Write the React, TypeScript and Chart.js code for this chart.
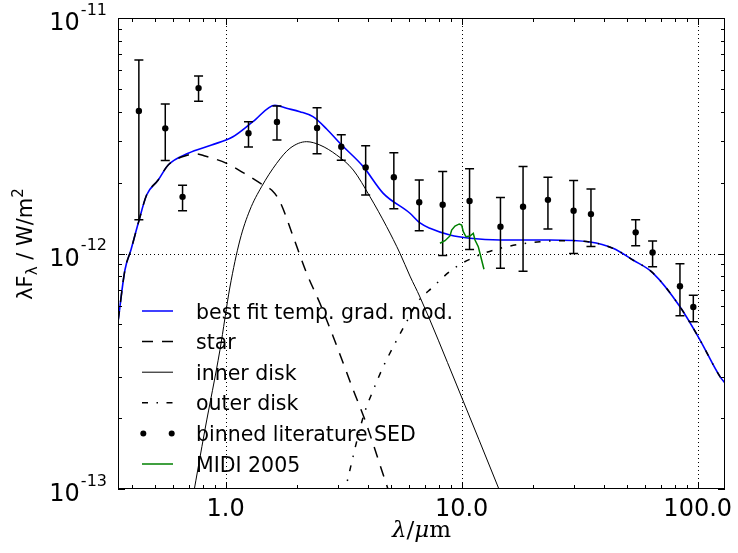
import React, { useEffect, useRef } from "react";
import { Chart, registerables } from "chart.js";

Chart.register(...registerables);

// ---------- data (wavelength in micron, lambda*F_lambda in W/m^2) ----------
const sedLambda = [0.429, 0.555, 0.657, 0.768, 1.25, 1.65, 2.44, 3.09, 3.92, 5.16, 6.61, 8.31, 10.8, 14.6, 18.2, 23.2, 29.8, 35.3, 54.6, 64.4, 84.1, 95.8];
const sedFlux = [4.03e-12, 3.40e-12, 1.74e-12, 5.04e-12, 3.24e-12, 3.62e-12, 3.41e-12, 2.84e-12, 2.32e-12, 2.11e-12, 1.65e-12, 1.61e-12, 1.67e-12, 1.30e-12, 1.58e-12, 1.69e-12, 1.52e-12, 1.47e-12, 1.23e-12, 1.01e-12, 0.726e-12, 0.593e-12];
const sedHigh = [6.63e-12, 4.31e-12, 1.95e-12, 5.67e-12, 3.63e-12, 4.23e-12, 4.16e-12, 3.19e-12, 2.87e-12, 2.68e-12, 2.05e-12, 2.23e-12, 2.29e-12, 1.73e-12, 2.34e-12, 2.11e-12, 2.04e-12, 1.88e-12, 1.39e-12, 1.13e-12, 0.905e-12, 0.665e-12];
const sedLow = [1.39e-12, 2.48e-12, 1.52e-12, 4.43e-12, 2.83e-12, 3.03e-12, 2.65e-12, 2.49e-12, 1.77e-12, 1.55e-12, 1.25e-12, 0.98e-12, 1.04e-12, 0.865e-12, 0.84e-12, 1.27e-12, 1.0e-12, 1.07e-12, 1.08e-12, 0.879e-12, 0.544e-12, 0.513e-12];

const bestLambda = [0.350, 0.3745, 0.397, 0.4263, 0.4627, 0.518, 0.5712, 0.694, 0.872, 1.074, 1.305, 1.618, 1.813, 2.064, 2.344, 2.679, 3.05, 3.83, 4.654, 6.039, 6.658, 7.337, 8.92, 10.84, 14.53, 23.67, 34.96, 43.76, 53.19, 64.66, 84.14, 102.3, 124.3, 130.5];
const bestFlux = [5.12e-13, 8.51e-13, 1.035e-12, 1.343e-12, 1.771e-12, 2.052e-12, 2.376e-12, 2.664e-12, 2.888e-12, 3.133e-12, 3.627e-12, 4.259e-12, 4.136e-12, 4.0e-12, 3.81e-12, 3.379e-12, 2.938e-12, 2.338e-12, 1.801e-12, 1.482e-12, 1.348e-12, 1.279e-12, 1.198e-12, 1.16e-12, 1.141e-12, 1.141e-12, 1.119e-12, 1.052e-12, 0.938e-12, 0.826e-12, 0.594e-12, 0.429e-12, 0.300e-12, 0.282e-12];

const starLambda = [0.350, 0.3745, 0.397, 0.4263, 0.4627, 0.518, 0.5712, 0.694, 0.7536, 0.817, 1.0098, 1.267, 1.443, 1.566, 1.699, 1.934, 2.204, 2.509, 2.857, 3.473, 3.893, 4.732, 4.92];
const starFlux = [5.12e-13, 8.51e-13, 1.035e-12, 1.343e-12, 1.771e-12, 2.052e-12, 2.376e-12, 2.62e-12, 2.646e-12, 2.594e-12, 2.415e-12, 2.119e-12, 1.954e-12, 1.86e-12, 1.66e-12, 1.178e-12, 0.824e-12, 0.6144e-12, 0.4433e-12, 0.2633e-12, 0.1963e-12, 0.1092e-12, 0.0971e-12];

const innerLambda = [0.727, 0.817, 0.946, 1.043, 1.15, 1.267, 1.42, 1.645, 1.873, 2.204, 2.509, 2.953, 3.473, 4.088, 4.811, 5.478, 6.039, 6.658, 9.524, 14.67];
const innerFlux = [0.0925e-12, 0.178e-12, 0.389e-12, 0.7206e-12, 1.141e-12, 1.53e-12, 1.921e-12, 2.415e-12, 2.797e-12, 2.984e-12, 2.888e-12, 2.62e-12, 2.262e-12, 1.743e-12, 1.2996e-12, 1.002e-12, 0.802e-12, 0.6535e-12, 0.2765e-12, 0.0952e-12];

const outerLambda = [3.172, 3.83, 4.222, 4.654, 5.131, 5.848, 6.447, 7.58, 9.07, 11.03, 14.53, 21.47, 29.71, 34.96, 43.76, 53.19, 64.66, 84.14, 102.3, 124.3, 130.5];
const outerFlux = [0.0943e-12, 0.2028e-12, 0.2633e-12, 0.3307e-12, 0.4019e-12, 0.5133e-12, 0.6144e-12, 0.7228e-12, 0.851e-12, 0.954e-12, 1.052e-12, 1.122e-12, 1.133e-12, 1.119e-12, 1.052e-12, 0.938e-12, 0.826e-12, 0.594e-12, 0.429e-12, 0.300e-12, 0.282e-12];

const midiLambda = [8.09, 8.50, 8.92, 9.07, 9.37, 9.77, 10.0, 10.16, 10.43, 10.84, 11.20, 11.39, 11.76, 11.95, 12.15, 12.43];
const midiFlux = [1.105e-12, 1.133e-12, 1.187e-12, 1.258e-12, 1.308e-12, 1.335e-12, 1.322e-12, 1.238e-12, 1.178e-12, 1.187e-12, 1.218e-12, 1.141e-12, 1.069e-12, 1.002e-12, 0.938e-12, 0.857e-12];

const xTickValues = [1, 10, 100];
const xTickLabels = ["1.0", "10.0", "100.0"];
const yTickValues = [1e-13, 1e-12, 1e-11];
const yTickExps = ["-13", "-12", "-11"];

const legendLabels = ["best fit temp. grad. mod.", "star", "inner disk", "outer disk", "binned literature SED", "MIDI 2005"];

const X_MIN = 0.35;
const X_MAX = 130.5;
const Y_MIN = 1e-13;
const Y_MAX = 1e-11;

const BLUE = "#0000ff";
const GREEN = "#008000";
const SANS = '"DejaVu Sans", sans-serif';
const SERIF = '"DejaVu Serif", serif';
const STAR_DASH = [11, 9];
const OUTER_DASH = [6, 8.5, 1.5, 8.5];
const POINTS_INDEX = 4;

const toXY = (xs: number[], ys: number[]) => xs.map((x, i) => ({ x, y: ys[i] }));

const decorPlugin = {
  id: "sedDecor",
  beforeDatasetsDraw(chart: any) {
    const { ctx, chartArea: a } = chart;
    const xs = chart.scales.x;
    const ys = chart.scales.y;
    ctx.save();
    ctx.strokeStyle = "#000";
    ctx.lineWidth = 1;
    ctx.setLineDash([1, 3]);
    for (const v of xTickValues) {
      const px = Math.round(xs.getPixelForValue(v)) + 0.5;
      if (px <= a.left + 1 || px >= a.right - 1) continue;
      ctx.beginPath();
      ctx.moveTo(px, a.top);
      ctx.lineTo(px, a.bottom);
      ctx.stroke();
    }
    for (const v of yTickValues) {
      const py = Math.round(ys.getPixelForValue(v)) + 0.5;
      if (py <= a.top + 1 || py >= a.bottom - 1) continue;
      ctx.beginPath();
      ctx.moveTo(a.left, py);
      ctx.lineTo(a.right, py);
      ctx.stroke();
    }
    ctx.restore();
  },
  afterDatasetDraw(chart: any, args: any) {
    if (args.index !== POINTS_INDEX) return;
    const { ctx } = chart;
    const xs = chart.scales.x;
    const ys = chart.scales.y;
    ctx.save();
    ctx.strokeStyle = "#000";
    ctx.lineWidth = 1.5;
    ctx.setLineDash([]);
    const cap = 4.5;
    sedLambda.forEach((l, i) => {
      const px = xs.getPixelForValue(l);
      const pTop = ys.getPixelForValue(sedHigh[i]);
      const pBot = ys.getPixelForValue(sedLow[i]);
      ctx.beginPath();
      ctx.moveTo(px, pTop);
      ctx.lineTo(px, pBot);
      ctx.moveTo(px - cap, pTop);
      ctx.lineTo(px + cap, pTop);
      ctx.moveTo(px - cap, pBot);
      ctx.lineTo(px + cap, pBot);
      ctx.stroke();
    });
    ctx.restore();
  },
  afterDraw(chart: any) {
    const { ctx, chartArea: a } = chart;
    const xs = chart.scales.x;
    const ys = chart.scales.y;
    ctx.save();
    ctx.setLineDash([]);
    ctx.strokeStyle = "#000";
    ctx.fillStyle = "#000";
    // frame
    ctx.lineWidth = 1;
    ctx.strokeRect(a.left + 0.5, a.top + 0.5, a.right - a.left - 1, a.bottom - a.top - 1);

    // tick marks (inward, all four sides)
    const majorLen = 7;
    const minorLen = 4;
    ctx.beginPath();
    for (let d = -1; d <= 2; d++) {
      for (let m = 1; m <= 9; m++) {
        const v = m * Math.pow(10, d);
        if (v < X_MIN || v > X_MAX) continue;
        const px = Math.round(xs.getPixelForValue(v)) + 0.5;
        const len = m === 1 ? majorLen : minorLen;
        ctx.moveTo(px, a.bottom);
        ctx.lineTo(px, a.bottom - len);
        ctx.moveTo(px, a.top);
        ctx.lineTo(px, a.top + len);
      }
    }
    for (let d = -13; d <= -11; d++) {
      for (let m = 1; m <= 9; m++) {
        const v = m * Math.pow(10, d);
        if (v < Y_MIN * 0.999 || v > Y_MAX * 1.001) continue;
        const py = Math.round(ys.getPixelForValue(v)) + 0.5;
        const len = m === 1 ? majorLen : minorLen;
        ctx.moveTo(a.left, py);
        ctx.lineTo(a.left + len, py);
        ctx.moveTo(a.right, py);
        ctx.lineTo(a.right - len, py);
      }
    }
    ctx.stroke();

    // x tick labels
    ctx.font = `24px ${SANS}`;
    ctx.textAlign = "center";
    ctx.textBaseline = "alphabetic";
    xTickValues.forEach((v, i) => {
      const px = xs.getPixelForValue(v);
      ctx.fillText(xTickLabels[i], px, a.bottom + 27);
    });

    // y tick labels 10^exp
    ctx.textAlign = "left";
    yTickValues.forEach((v, i) => {
      const py = ys.getPixelForValue(v);
      ctx.font = `24px ${SANS}`;
      const w10 = ctx.measureText("10").width;
      ctx.font = `16px ${SANS}`;
      const wExp = ctx.measureText(yTickExps[i]).width;
      const xStart = a.left - 11 - wExp - w10 - 1;
      ctx.font = `24px ${SANS}`;
      ctx.fillText("10", xStart, py + 12);
      ctx.font = `16px ${SANS}`;
      ctx.fillText(yTickExps[i], xStart + w10 + 1, py - 3.5);
    });

    // y axis title: λF_λ / W/m^2 (rotated)
    {
      const big = `21px ${SANS}`;
      const small = `15px ${SANS}`;
      const segs = [
        { t: "λF", f: big, dy: 0 },
        { t: "λ", f: small, dy: 5 },
        { t: " / W/m", f: big, dy: 0 },
        { t: "2", f: small, dy: -9 },
      ];
      let total = 0;
      const widths = segs.map((s) => {
        ctx.font = s.f;
        const w = ctx.measureText(s.t).width;
        total += w;
        return w;
      });
      ctx.save();
      ctx.translate(32, 244);
      ctx.rotate(-Math.PI / 2);
      let cx = -total / 2;
      segs.forEach((s, i) => {
        ctx.font = s.f;
        ctx.fillText(s.t, cx, s.dy);
        cx += widths[i];
      });
      ctx.restore();
    }

    // x axis title: λ/μm
    {
      const segs = [
        { t: "λ", f: `italic 23px ${SERIF}` },
        { t: "/", f: `23px ${SERIF}` },
        { t: "μ", f: `italic 23px ${SERIF}` },
        { t: "m", f: `23px ${SERIF}` },
      ];
      let total = 0;
      const widths = segs.map((s) => {
        ctx.font = s.f;
        const w = ctx.measureText(s.t).width;
        total += w;
        return w;
      });
      let cx = (a.left + a.right) / 2 - total / 2;
      segs.forEach((s, i) => {
        ctx.font = s.f;
        ctx.fillText(s.t, cx, 537);
        cx += widths[i];
      });
    }

    // legend (no frame)
    {
      const x0 = 142;
      const x1 = 173;
      const tx = 196;
      const y0 = 311;
      const step = 30.6;
      legendLabels.forEach((label, i) => {
        const y = y0 + i * step;
        ctx.save();
        ctx.setLineDash([]);
        if (i === 4) {
          ctx.fillStyle = "#000";
          for (const dx of [x0 + 1.3, x1 - 1.3]) {
            ctx.beginPath();
            ctx.arc(dx, y, 3, 0, Math.PI * 2);
            ctx.fill();
          }
        } else {
          let color = "#000";
          let lw = 1.5;
          let dash: number[] = [];
          if (i === 0) color = BLUE;
          if (i === 1) dash = STAR_DASH;
          if (i === 2) lw = 1;
          if (i === 3) dash = OUTER_DASH;
          if (i === 5) color = GREEN;
          ctx.strokeStyle = color;
          ctx.lineWidth = lw;
          ctx.setLineDash(dash);
          ctx.beginPath();
          ctx.moveTo(x0, y);
          ctx.lineTo(x1, y);
          ctx.stroke();
        }
        ctx.restore();
        ctx.fillStyle = "#000";
        ctx.font = `20.5px ${SANS}`;
        ctx.textAlign = "left";
        ctx.fillText(label, tx, y + 7.5);
      });
    }
    ctx.restore();
  },
};

export default function App() {
  const canvasRef = useRef<HTMLCanvasElement | null>(null);

  useEffect(() => {
    const canvas = canvasRef.current;
    if (!canvas) return;
    const lineBase = { showLine: true, pointRadius: 0, pointHoverRadius: 0, fill: false, clip: 0, cubicInterpolationMode: "monotone" };
    const chart = new Chart(canvas, {
      type: "scatter",
      data: {
        datasets: [
          { ...lineBase, label: legendLabels[0], data: toXY(bestLambda, bestFlux), borderColor: BLUE, borderWidth: 1.6, order: 6 },
          { ...lineBase, label: legendLabels[1], data: toXY(starLambda, starFlux), borderColor: "#000", borderWidth: 1.5, borderDash: STAR_DASH, order: 5 },
          { ...lineBase, label: legendLabels[2], data: toXY(innerLambda, innerFlux), borderColor: "#000", borderWidth: 1, order: 4 },
          { ...lineBase, label: legendLabels[3], data: toXY(outerLambda, outerFlux), borderColor: "#000", borderWidth: 1.5, borderDash: OUTER_DASH, order: 3 },
          { label: legendLabels[4], data: toXY(sedLambda, sedFlux), showLine: false, pointRadius: 3.2, pointHoverRadius: 3.2, pointBackgroundColor: "#000", pointBorderColor: "#000", pointBorderWidth: 0, backgroundColor: "#000", borderColor: "#000", order: 2, clip: 0 },
          { showLine: true, pointRadius: 0, pointHoverRadius: 0, fill: false, clip: 0, tension: 0, label: legendLabels[5], data: toXY(midiLambda, midiFlux), borderColor: GREEN, borderWidth: 1.5, order: 1 },
        ] as any,
      },
      options: {
        animation: false,
        responsive: false,
        devicePixelRatio: 1,
        events: [],
        layout: { padding: { left: 118, right: 13, top: 18, bottom: 64 } },
        plugins: { legend: { display: false }, tooltip: { enabled: false } },
        scales: {
          x: { type: "logarithmic", min: X_MIN, max: X_MAX, display: false },
          y: { type: "logarithmic", min: Y_MIN, max: Y_MAX, display: false },
        },
      } as any,
      plugins: [decorPlugin],
    });
    return () => chart.destroy();
  }, []);

  return (
    <div style={{ position: "fixed", left: 0, top: 0, width: 738, height: 553, background: "#fff" }}>
      <canvas ref={canvasRef} width={738} height={553} style={{ display: "block", width: 738, height: 553 }} />
    </div>
  );
}
